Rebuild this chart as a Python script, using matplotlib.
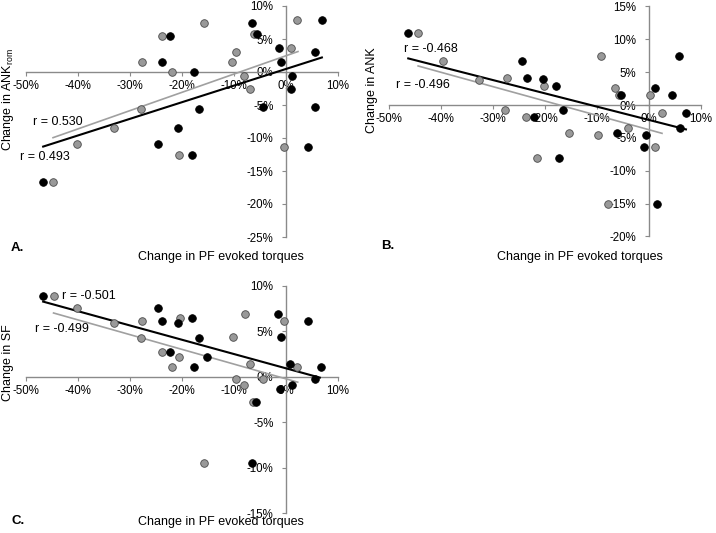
import matplotlib
matplotlib.use("Agg")
import matplotlib.pyplot as plt
from matplotlib.ticker import FuncFormatter, MultipleLocator

plt.rcParams['font.family'] = ['Liberation Sans', 'DejaVu Sans']
plt.rcParams['axes.unicode_minus'] = False
plt.rcParams['mathtext.fontset'] = 'custom'
plt.rcParams['mathtext.rm'] = 'Liberation Sans'
plt.rcParams['mathtext.it'] = 'Liberation Sans:italic'

# ---------------- Data (percent) ----------------
# Panel A: Change in ANKrom
a_gray_x = [-23.9, -27.6, -21.9, -27.9, -33.0, -40.1, -20.5, -44.8, -15.8, -6.2, 2.1, 0.9, -9.6, -10.3, -8.0, -6.9, -0.3]
a_gray_y = [5.5, 1.5, 0.0, -5.65, -8.5, -10.9, -12.6, -16.7, 7.5, 5.8, 7.9, 3.6, 3.1, 1.5, -0.6, -2.5, -11.4]
a_black_x = [-22.4, -23.8, -20.7, -24.7, -46.7, -6.5, -5.6, 6.9, -1.3, 5.6, -1.0, -17.6, 1.2, 0.9, -16.7, -4.4, 5.6, -18.1, 4.2]
a_black_y = [5.5, 1.5, -8.5, -10.9, -16.7, 7.5, 5.8, 7.9, 3.6, 3.1, 1.5, 0.0, -0.6, -2.5, -5.65, -5.3, -5.3, -12.6, -11.4]
a_black_fit_x = [-46.7, 6.9]
a_black_fit_y = [-11.3, 2.2]
a_gray_fit_x = [-44.8, 2.3]
a_gray_fit_y = [-9.95, 3.1]

# Panel B: Change in ANK
b_gray_x = [-44.4, -39.7, -32.7, -27.3, -27.6, -23.7, -21.5, -20.1, -15.4, -9.3, -6.6, -5.8, -9.8, -4.0, 1.2, 0.1, 2.5, -7.8]
b_gray_y = [11.0, 6.7, 3.8, 4.1, -0.8, -1.8, -8.1, 2.95, -4.2, 7.4, 2.55, 1.6, -4.6, -3.5, -6.4, 1.5, -1.2, -15.0]
b_black_x = [-46.3, -24.4, -23.5, -22.2, -20.3, -17.8, -16.5, -17.3, -5.3, -6.2, -0.6, -1.0, 1.2, 4.5, 5.8, 7.1, 6.0, 1.5]
b_black_y = [11.0, 6.7, 4.1, -1.8, 3.9, 2.95, -0.8, -8.1, 1.6, -4.2, -4.6, -6.4, 2.55, 1.5, 7.4, -1.2, -3.5, -15.0]
b_black_fit_x = [-46.3, 7.1]
b_black_fit_y = [7.1, -3.7]
b_gray_fit_x = [-44.4, 2.5]
b_gray_fit_y = [5.95, -4.3]

# Panel C: Change in SF
c_gray_x = [-44.7, -40.1, -33.0, -27.6, -27.9, -23.9, -20.4, -20.6, -21.9, -10.25, -7.9, -0.3, -6.9, 2.1, -9.6, -4.5, -8.1, -6.3, -15.8]
c_gray_y = [8.9, 7.6, 5.9, 6.15, 4.25, 2.75, 6.4, 2.15, 1.05, 4.4, 6.9, 6.15, 1.45, 1.1, -0.3, -0.3, -0.9, -2.8, -9.5]
c_black_x = [-46.7, -24.7, -23.8, -20.8, -18.1, -16.8, -22.4, -15.1, -17.6, -1.6, 4.2, -1.0, 0.8, 6.7, 5.6, 1.2, -1.15, -5.8, -6.5]
c_black_y = [8.9, 7.55, 6.15, 5.9, 6.4, 4.2, 2.75, 2.15, 1.05, 6.9, 6.15, 4.35, 1.45, 1.1, -0.3, -0.9, -1.4, -2.8, -9.5]
c_black_fit_x = [-46.7, 6.5]
c_black_fit_y = [8.25, -0.1]
c_gray_fit_x = [-44.7, 2.25]
c_gray_fit_y = [7.0, -0.6]

x_ticks = [-50, -40, -30, -20, -10, 0, 10]
xlabel = "Change in PF evoked torques"

W, H = 716, 533
fig = plt.figure(figsize=(W / 100, H / 100), dpi=100)


def px_axes(x0, x1, ytop, ybot):
    return fig.add_axes([x0 / W, 1 - ybot / H, (x1 - x0) / W, (ybot - ytop) / H])


def ftext(x, y, s, **kw):
    fig.text(x / W, 1 - y / H, s, **kw)


pct = FuncFormatter(lambda v, p: "%d%%" % round(v))
AXC = '#8a8a8a'


def panel(ax, ylim, ystep, gx, gy, bx, by, gfx, gfy, bfx, bfy):
    ax.set_xlim(-50, 10)
    ax.set_ylim(*ylim)
    for s in ['top', 'right']:
        ax.spines[s].set_visible(False)
    ax.spines['left'].set_position(('data', 0))
    ax.spines['bottom'].set_position(('data', 0))
    for s in ['left', 'bottom']:
        ax.spines[s].set_color(AXC)
        ax.spines[s].set_linewidth(1.0)
    ax.set_xticks(x_ticks)
    ax.yaxis.set_major_locator(MultipleLocator(ystep))
    ax.xaxis.set_major_formatter(pct)
    ax.yaxis.set_major_formatter(pct)
    ax.tick_params(axis='x', direction='out', length=3, width=0.8, color=AXC,
                   labelsize=8.3, pad=3)
    ax.tick_params(axis='y', direction='out', length=3, width=0.8, color=AXC,
                   labelsize=8.3, pad=6)
    ax.patch.set_alpha(0)
    ax.plot(gfx, gfy, color='#a0a0a0', lw=1.2, zorder=3, clip_on=False)
    ax.plot(bfx, bfy, color='black', lw=1.5, zorder=3, clip_on=False)
    ax.scatter(gx, gy, s=30, c='#999999', edgecolors='#4a4a4a', linewidths=0.6,
               zorder=5, clip_on=False)
    ax.scatter(bx, by, s=30, c='black', edgecolors='black', linewidths=0.6,
               zorder=6, clip_on=False)


# Panel A
axA = px_axes(26, 338, 6, 237)
panel(axA, (-25, 10), 5, a_gray_x, a_gray_y, a_black_x, a_black_y,
      a_gray_fit_x, a_gray_fit_y, a_black_fit_x, a_black_fit_y)
# Panel B
axB = px_axes(389, 701, 6.5, 236.5)
panel(axB, (-20, 15), 5, b_gray_x, b_gray_y, b_black_x, b_black_y,
      b_gray_fit_x, b_gray_fit_y, b_black_fit_x, b_black_fit_y)
# Panel C
axC = px_axes(26, 338, 285.7, 513.2)
panel(axC, (-15, 10), 5, c_gray_x, c_gray_y, c_black_x, c_black_y,
      c_gray_fit_x, c_gray_fit_y, c_black_fit_x, c_black_fit_y)

fs = 9
# r labels
ftext(33, 122, "r = 0.530", fontsize=fs, va='center', ha='left')
ftext(20, 157, "r = 0.493", fontsize=fs, va='center', ha='left')
ftext(404, 49, "r = -0.468", fontsize=fs, va='center', ha='left')
ftext(396, 85, "r = -0.496", fontsize=fs, va='center', ha='left')
ftext(62, 296, "r = -0.501", fontsize=fs, va='center', ha='left')
ftext(35, 329, "r = -0.499", fontsize=fs, va='center', ha='left')

# axis titles
ftext(221, 257, xlabel, fontsize=fs, ha='center', va='center')
ftext(580, 257, xlabel, fontsize=fs, ha='center', va='center')
ftext(221, 522, xlabel, fontsize=fs, ha='center', va='center')
ftext(8, 100, r"Change in ANK$_{\mathrm{rom}}$", fontsize=fs, rotation=90,
      ha='center', va='center')
ftext(372, 90, "Change in ANK", fontsize=fs, rotation=90, ha='center', va='center')
ftext(8, 363, "Change in SF", fontsize=fs, rotation=90, ha='center', va='center')

# panel letters
ftext(11, 248, "A.", fontsize=9.5, fontweight='bold', ha='left', va='center')
ftext(381, 246, "B.", fontsize=9.5, fontweight='bold', ha='left', va='center')
ftext(11, 521, "C.", fontsize=9.5, fontweight='bold', ha='left', va='center')

fig.savefig("out.png", dpi=100)
